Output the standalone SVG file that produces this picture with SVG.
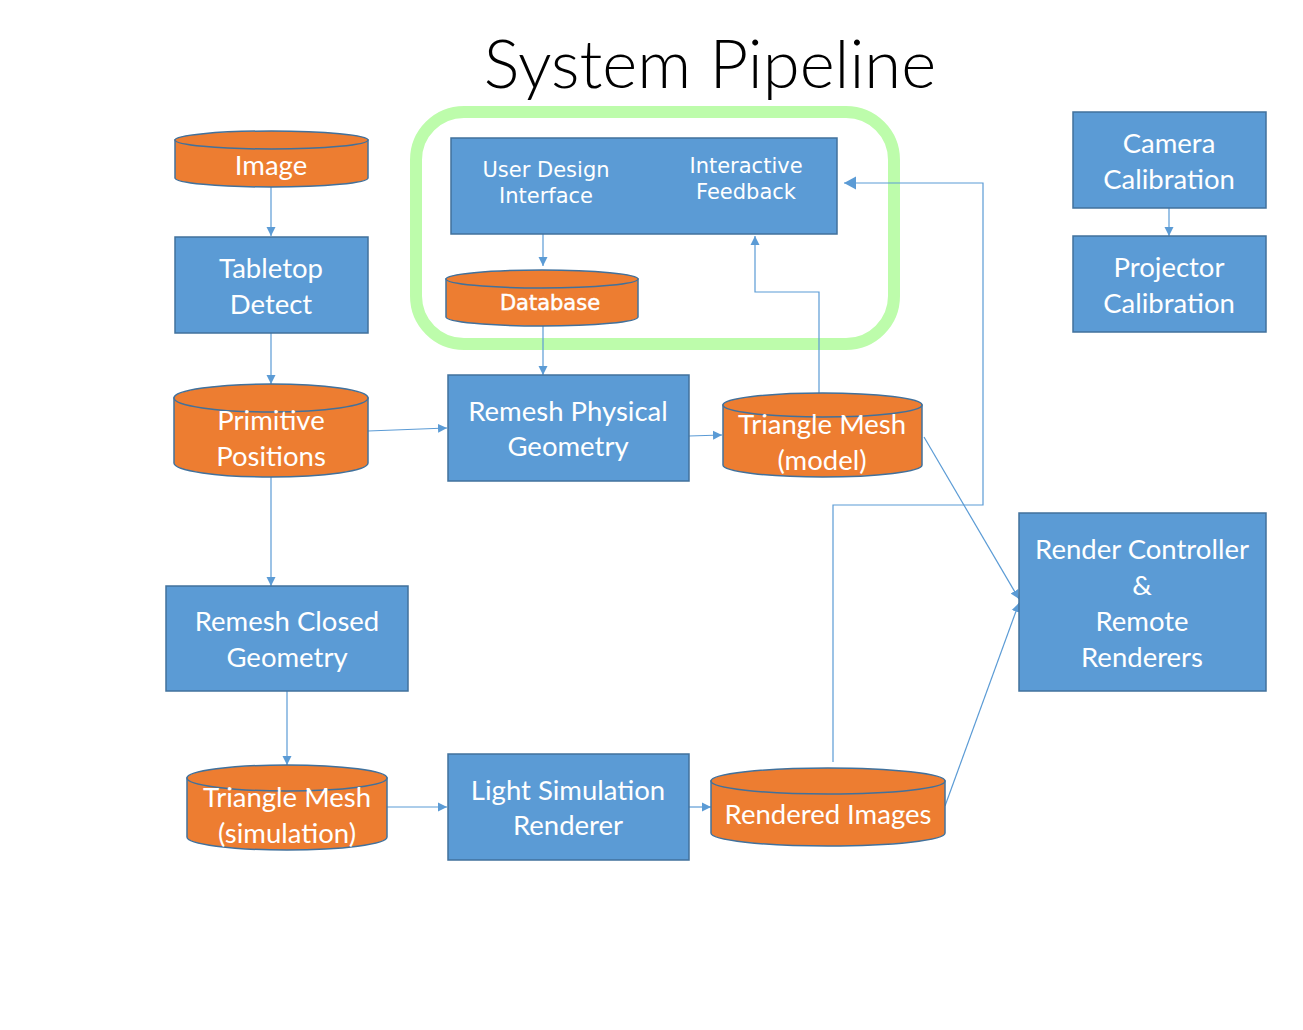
<svg xmlns="http://www.w3.org/2000/svg" width="1303" height="1030" viewBox="0 0 1303 1030">
<defs>
<marker id="ah" markerWidth="10" markerHeight="10" refX="9" refY="5" orient="auto" markerUnits="userSpaceOnUse">
<path d="M0,0.5 L9,5 L0,9.5 Z" fill="#5b9bd5"/>
</marker>
<marker id="ahb" markerWidth="14" markerHeight="14" refX="12" refY="7" orient="auto" markerUnits="userSpaceOnUse">
<path d="M0,0.5 L12,7 L0,13.5 Z" fill="#5b9bd5"/>
</marker>
</defs>
<style>
.box{fill:#5b9bd5;stroke:#41719c;stroke-width:1.5}
.cyl{fill:#ed7d31;stroke:#41719c;stroke-width:1.5}
.t{font-family:Lato,"Open Sans","Liberation Sans",sans-serif;font-size:27.5px;fill:#ffffff;text-anchor:middle}
.v{font-family:"DejaVu Sans",Verdana,sans-serif;font-size:21px;fill:#ffffff;text-anchor:middle}
.c{fill:none;stroke:#5b9bd5;stroke-width:1.2}
</style>
<rect width="1303" height="1030" fill="#ffffff"/>
<text x="710" y="88" font-family="Lato,'Open Sans','Liberation Sans',sans-serif" font-size="67" font-weight="300" fill="#000" text-anchor="middle">System Pipeline</text>

<g id="group-ui">
<rect x="416" y="112" width="478" height="232" rx="48" ry="48" fill="none" stroke="#bdfcab" stroke-width="12"/>
</g>

<g id="connectors">
<line class="c" x1="271" y1="187" x2="271" y2="236" marker-end="url(#ah)"/>
<line class="c" x1="271" y1="333" x2="271" y2="384" marker-end="url(#ah)"/>
<line class="c" x1="368" y1="431" x2="447" y2="428" marker-end="url(#ah)"/>
<line class="c" x1="543" y1="234" x2="543" y2="266" marker-end="url(#ah)"/>
<line class="c" x1="543" y1="326" x2="543" y2="375" marker-end="url(#ah)"/>
<line class="c" x1="689" y1="436" x2="722" y2="435" marker-end="url(#ah)"/>
<polyline class="c" points="819,395 819,292 755,292 755,236" marker-end="url(#ah)"/>
<polyline class="c" points="833,762 833,505 983,505 983,183 844,183" marker-end="url(#ahb)"/>
<line class="c" x1="924" y1="437" x2="1019" y2="599" marker-end="url(#ah)"/>
<line class="c" x1="945" y1="806" x2="1019" y2="603" marker-end="url(#ah)"/>
<line class="c" x1="1169" y1="208" x2="1169" y2="236" marker-end="url(#ah)"/>
<line class="c" x1="271" y1="477" x2="271" y2="586" marker-end="url(#ah)"/>
<line class="c" x1="287" y1="691" x2="287" y2="765" marker-end="url(#ah)"/>
<line class="c" x1="387" y1="807" x2="447" y2="807" marker-end="url(#ah)"/>
<line class="c" x1="689" y1="807" x2="711" y2="807" marker-end="url(#ah)"/>
</g>

<g id="image">
<path class="cyl" d="M175,140 V178 A96.5,9 0 0 0 368,178 V140 Z"/>
<ellipse class="cyl" cx="271.5" cy="140" rx="96.5" ry="9"/>
<text class="t" x="271" y="175">Image</text>
</g>

<g id="tabletop-detect">
<rect class="box" x="175" y="237" width="193" height="96"/>
<text class="t" x="271" y="278">Tabletop</text>
<text class="t" x="271" y="314">Detect</text>
</g>

<g id="primitive-positions">
<path class="cyl" d="M174,398 V463 A97,14 0 0 0 368,463 V398 Z"/>
<ellipse class="cyl" cx="271" cy="398" rx="97" ry="14"/>
<text class="t" x="271" y="430">Primitive</text>
<text class="t" x="271" y="466">Positions</text>
</g>

<g id="user-design">
<rect class="box" x="451" y="138" width="386" height="96"/>
<text class="v" x="546" y="177">User Design</text>
<text class="v" x="546" y="203">Interface</text>
<text class="v" x="746" y="173">Interactive</text>
<text class="v" x="746" y="199">Feedback</text>
</g>

<g id="database">
<path class="cyl" d="M446,279 V317 A96,9 0 0 0 638,317 V279 Z"/>
<ellipse class="cyl" cx="542" cy="279" rx="96" ry="9"/>
<text class="v" x="550" y="310" font-size="20.5" stroke="#ffffff" stroke-width="0.5">Database</text>
</g>

<g id="remesh-physical">
<rect class="box" x="448" y="375" width="241" height="106"/>
<text class="t" x="568" y="421">Remesh Physical</text>
<text class="t" x="568" y="456">Geometry</text>
</g>

<g id="triangle-mesh-model">
<path class="cyl" d="M723,405 V465 A99.5,12 0 0 0 922,465 V405 Z"/>
<ellipse class="cyl" cx="822.5" cy="405" rx="99.5" ry="12"/>
<text class="t" x="822" y="434">Triangle Mesh</text>
<text class="t" x="822" y="470">(model)</text>
</g>

<g id="camera-calibration">
<rect class="box" x="1073" y="112" width="193" height="96"/>
<text class="t" x="1169" y="153">Camera</text>
<text class="t" x="1169" y="189">Calibration</text>
</g>

<g id="projector-calibration">
<rect class="box" x="1073" y="236" width="193" height="96"/>
<text class="t" x="1169" y="277">Projector</text>
<text class="t" x="1169" y="313">Calibration</text>
</g>

<g id="render-controller">
<rect class="box" x="1019" y="513" width="247" height="178"/>
<text class="t" x="1142" y="559">Render Controller</text>
<text class="t" x="1142" y="595">&amp;</text>
<text class="t" x="1142" y="631">Remote</text>
<text class="t" x="1142" y="667">Renderers</text>
</g>

<g id="remesh-closed">
<rect class="box" x="166" y="586" width="242" height="105"/>
<text class="t" x="287" y="631">Remesh Closed</text>
<text class="t" x="287" y="667">Geometry</text>
</g>

<g id="triangle-mesh-sim">
<path class="cyl" d="M187,778 V837 A100,13 0 0 0 387,837 V778 Z"/>
<ellipse class="cyl" cx="287" cy="778" rx="100" ry="13"/>
<text class="t" x="287" y="807">Triangle Mesh</text>
<text class="t" x="287" y="843">(simulation)</text>
</g>

<g id="light-simulation">
<rect class="box" x="448" y="754" width="241" height="106"/>
<text class="t" x="568" y="800">Light Simulation</text>
<text class="t" x="568" y="835">Renderer</text>
</g>

<g id="rendered-images">
<path class="cyl" d="M711,781 V833 A117,13 0 0 0 945,833 V781 Z"/>
<ellipse class="cyl" cx="828" cy="781" rx="117" ry="13"/>
<text class="t" x="828" y="824">Rendered Images</text>
</g>
</svg>
